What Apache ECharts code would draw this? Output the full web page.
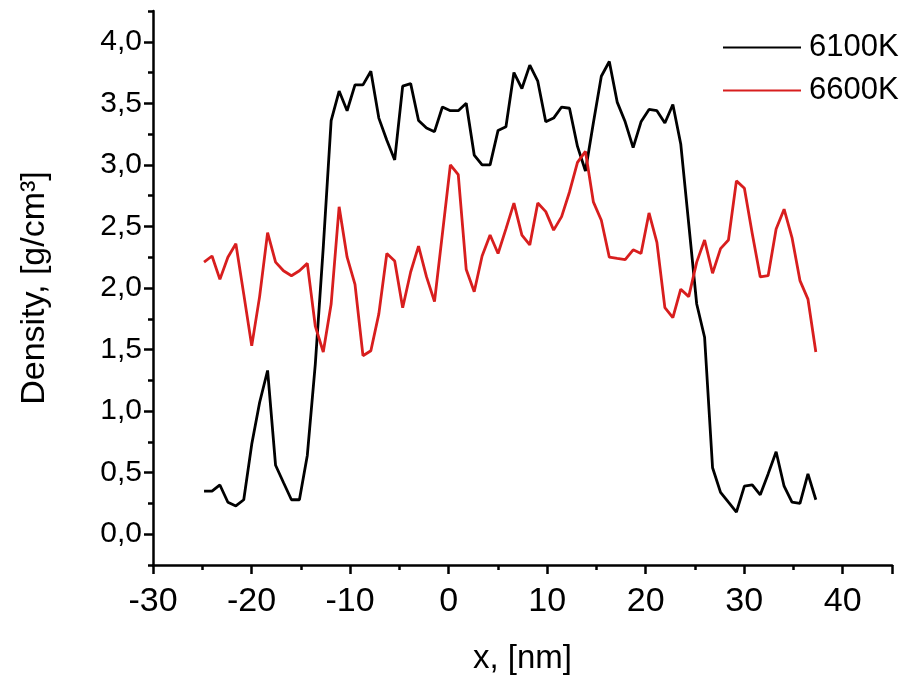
<!DOCTYPE html>
<html>
<head>
<meta charset="utf-8">
<script src="https://cdn.jsdelivr.net/npm/echarts@6/dist/echarts.min.js"></script>
<style>
  html, body { margin: 0; padding: 0; background: #fff; }
  #container { width: 907px; height: 675px; }
</style>
</head>
<body>
<div id="container"></div>
<script>
// x positions, nm
var xPos = [-24.82, -24.01, -23.21, -22.40, -21.59, -20.79, -19.98, -19.18, -18.37, -17.56,
    -16.76, -15.95, -15.14, -14.34, -13.53, -12.72, -11.92, -11.11, -10.30, -9.50,
    -8.69, -7.89, -7.08, -6.27, -5.47, -4.66, -3.85, -3.05, -2.24, -1.43,
    -0.63, 0.18, 0.98, 1.79, 2.60, 3.40, 4.21, 5.02, 5.82, 6.63,
    7.44, 8.24, 9.05, 9.86, 10.66, 11.47, 12.27, 13.08, 13.89, 14.69,
    15.50, 16.31, 17.11, 17.92, 18.73, 19.53, 20.34, 21.14, 21.95, 22.76,
    23.56, 24.37, 25.18, 25.98, 26.79, 27.60, 28.40, 29.21, 30.02, 30.82,
    31.63, 32.43, 33.24, 34.05, 34.85, 35.66, 36.47, 37.27];

// density, g/cm3
var density6100 = [0.35, 0.35, 0.40, 0.26, 0.23, 0.28, 0.73, 1.07, 1.33, 0.56,
    0.42, 0.28, 0.28, 0.64, 1.38, 2.33, 3.36, 3.60, 3.44, 3.65,
    3.65, 3.76, 3.38, 3.20, 3.04, 3.64, 3.66, 3.36, 3.30, 3.27,
    3.47, 3.44, 3.44, 3.50, 3.08, 3.00, 3.00, 3.28, 3.31, 3.75,
    3.62, 3.81, 3.68, 3.35, 3.38, 3.47, 3.46, 3.15, 2.95, 3.34,
    3.72, 3.84, 3.51, 3.35, 3.14, 3.35, 3.45, 3.44, 3.34, 3.49,
    3.17, 2.52, 1.87, 1.60, 0.54, 0.34, 0.26, 0.18, 0.39, 0.40,
    0.32, 0.49, 0.67, 0.39, 0.26, 0.25, 0.49, 0.28];

var density6600 = [2.21, 2.26, 2.07, 2.25, 2.36, 1.95, 1.53, 1.93, 2.45, 2.21,
    2.14, 2.10, 2.14, 2.20, 1.69, 1.48, 1.87, 2.66, 2.25, 2.03,
    1.45, 1.49, 1.79, 2.28, 2.22, 1.84, 2.13, 2.34, 2.09, 1.89,
    2.44, 3.00, 2.92, 2.15, 1.97, 2.26, 2.43, 2.28, 2.48, 2.69,
    2.43, 2.35, 2.69, 2.62, 2.47, 2.58, 2.78, 3.02, 3.11, 2.70,
    2.55, 2.25, 2.24, 2.23, 2.31, 2.28, 2.61, 2.37, 1.84, 1.76,
    1.99, 1.93, 2.21, 2.39, 2.12, 2.32, 2.39, 2.87, 2.81, 2.44,
    2.09, 2.10, 2.48, 2.64, 2.41, 2.06, 1.91, 1.48];

var seriesNames = ['6100K', '6600K'];

// y ticks: labelled majors and unlabelled minors
var yMajorTicks = [0, 0.5, 1, 1.5, 2, 2.5, 3, 3.5, 4];
var yMinorTicks = [-0.25, 0.25, 0.75, 1.25, 1.75, 2.25, 2.75, 3.25, 3.75, 4.25];

function pairs(xs, ys) {
    var out = [];
    for (var i = 0; i < xs.length; i++) out.push([xs[i], ys[i]]);
    return out;
}

var font = 'Liberation Sans, Arial, sans-serif';
var black = { color: '#000', width: 2.5 };

var myChart = echarts.init(document.getElementById('container'), null, { renderer: 'canvas' });
var option = {
    backgroundColor: '#fff',
    animation: false,
    grid: { left: 153, right: 15, top: 11, bottom: 110, containLabel: false, outerBoundsMode: 'none' },
    legend: {
        orient: 'vertical',
        left: 717,
        top: 27,
        itemWidth: 78,
        itemHeight: 20,
        itemGap: 12,
        itemStyle: { opacity: 0 },
        textStyle: { color: '#000', fontSize: 31, fontFamily: font, lineHeight: 31, padding: [0, 0, 0, 3] },
        data: seriesNames
    },
    xAxis: {
        type: 'value',
        min: -30,
        max: 45,
        interval: 10,
        name: 'x, [nm]',
        nameLocation: 'middle',
        nameGap: 77,
        nameTextStyle: { color: '#000', fontSize: 33, fontFamily: font },
        axisLine: { show: true, onZero: false, lineStyle: black },
        axisTick: { show: true, length: 9, lineStyle: black },
        minorTick: { show: true, splitNumber: 2, length: 5, lineStyle: black },
        splitLine: { show: false },
        axisLabel: { color: '#000', fontSize: 34, fontFamily: font, margin: 20, showMaxLabel: false }
    },
    yAxis: [
        {
            type: 'value',
            min: -0.25,
            max: 4.25,
            position: 'left',
            offset: 0,
            name: 'Density, [g/cm³]',
            nameLocation: 'middle',
            nameGap: 101,
            nameTextStyle: { color: '#000', fontSize: 34, fontFamily: font },
            axisLine: { show: true, onZero: false, lineStyle: black },
            axisTick: { show: true, length: 9, lineStyle: black, customValues: yMajorTicks },
            splitLine: { show: false },
            axisLabel: {
                color: '#000', fontSize: 30, fontFamily: font, margin: 11,
                customValues: yMajorTicks,
                formatter: function (v) { return v.toFixed(1).replace('.', ','); }
            }
        },
        {
            type: 'value',
            min: -0.25,
            max: 4.25,
            position: 'left',
            offset: 0,
            axisLine: { show: false, onZero: false },
            axisTick: { show: true, length: 5, lineStyle: black, customValues: yMinorTicks },
            axisLabel: { show: false },
            splitLine: { show: false }
        }
    ],
    series: [
        {
            name: seriesNames[0],
            type: 'line',
            symbol: 'none',
            lineStyle: { color: '#000', width: 2.8 },
            itemStyle: { color: '#000' },
            data: pairs(xPos, density6100)
        },
        {
            name: seriesNames[1],
            type: 'line',
            symbol: 'none',
            lineStyle: { color: '#d81e1e', width: 2.8 },
            itemStyle: { color: '#d81e1e' },
            data: pairs(xPos, density6600)
        }
    ]
};
myChart.setOption(option);
</script>
</body>
</html>
